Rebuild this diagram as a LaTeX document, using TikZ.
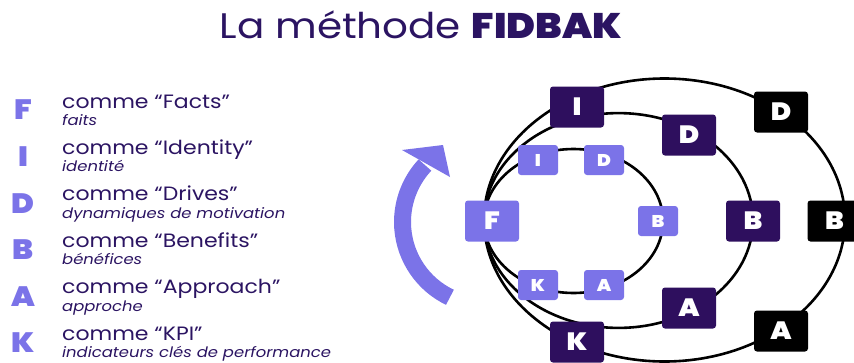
\documentclass[tikz,border=0pt]{standalone}
\usepackage{fontspec}
\setmainfont{Poppins}[FakeStretch=1.14]
\newfontfamily\heavy{Poppins Black}[FakeStretch=1.1]
\definecolor{ink}{HTML}{2B1462}
\definecolor{lav}{HTML}{7B73E8}
\definecolor{plum}{HTML}{2E0F5E}
\tikzset{
  ring/.style={draw=black, line width=2.6pt},
  key/.style={rounded corners=3pt, inner sep=0pt, text=white},
  smallkey/.style={key, fill=lav, minimum width=40pt, minimum height=30pt,
    font=\heavy\fontsize{17}{17}\selectfont},
  bigkey/.style={key, minimum width=54pt, minimum height=41pt,
    font=\heavy\fontsize{25}{25}\selectfont},
  midkey/.style={bigkey, fill=plum},
  outkey/.style={bigkey, fill=black},
  initial/.style={text=lav, font=\heavy\fontsize{28}{28}\selectfont},
  term/.style={anchor=base west, inner sep=0pt, text=ink, font=\fontsize{19.3}{19.3}\selectfont},
  gloss/.style={anchor=base west, inner sep=0pt, text=ink, font=\itshape\fontsize{14.4}{14.4}\selectfont},
}
\begin{document}
\begin{tikzpicture}[x=1pt,y=-1pt]
\useasboundingbox (0,0) rectangle (854,362);

% title
\node[anchor=base, inner sep=0pt, text=ink, font=\fontsize{35.5}{35.5}\selectfont]
  (title) at (421,38) {La méthode {\heavy FIDBAK}};

% letter column with meanings
\foreach \L/\T/\G [count=\i from 0] in {
  F/Facts/faits,
  I/Identity/identité,
  D/Drives/dynamiques de motivation,
  B/Benefits/bénéfices,
  A/Approach/approche,
  K/KPI/indicateurs clés de performance}{
  \node[initial] (init\L) at (23,110+46.6*\i) {\L};
  \node[term] (term\L) at (62,108+46.4*\i) {comme “\T”};
  \node[gloss] (gloss\L) at (62,125.5+46.4*\i) {\G};
}

% turning arrow
\draw[lav, line width=17pt] ([shift={(115.6:83.5)}]486,222) arc[start angle=115.6, end angle=223, radius=83.5];
\fill[lav] (402,150) -- (443,145) -- (450,177) -- cycle;

% three rings touching on the left
\draw[ring] (664.5,220) ellipse [x radius=180.5, y radius=141.5];
\draw[ring] (618.5,220.5) ellipse [x radius=134.5, y radius=107.4];
\draw[ring] (573.5,221) ellipse [x radius=89.5, y radius=72];

% inner ring
\node[smallkey] (iI) at (538,160) {I};
\node[smallkey] (iD) at (604,160) {D};
\node[bigkey, fill=lav] (iF) at (492,221) {F};
\node[smallkey] (iB) at (658,221) {B};
\node[smallkey] (iK) at (538,285) {K};
\node[smallkey] (iA) at (604,285) {A};

% middle ring
\node[midkey] (mI) at (577,107) {I};
\node[midkey] (mD) at (689,135) {D};
\node[midkey] (mB) at (753,221) {B};
\node[midkey] (mA) at (689,308) {A};
\node[midkey] (mK) at (577,342) {K};

% outer ring
\node[outkey] (oD) at (781,112) {D};
\node[outkey] (oB) at (834.5,221) {B};
\node[outkey] (oA) at (781,331) {A};
\end{tikzpicture}
\end{document}
